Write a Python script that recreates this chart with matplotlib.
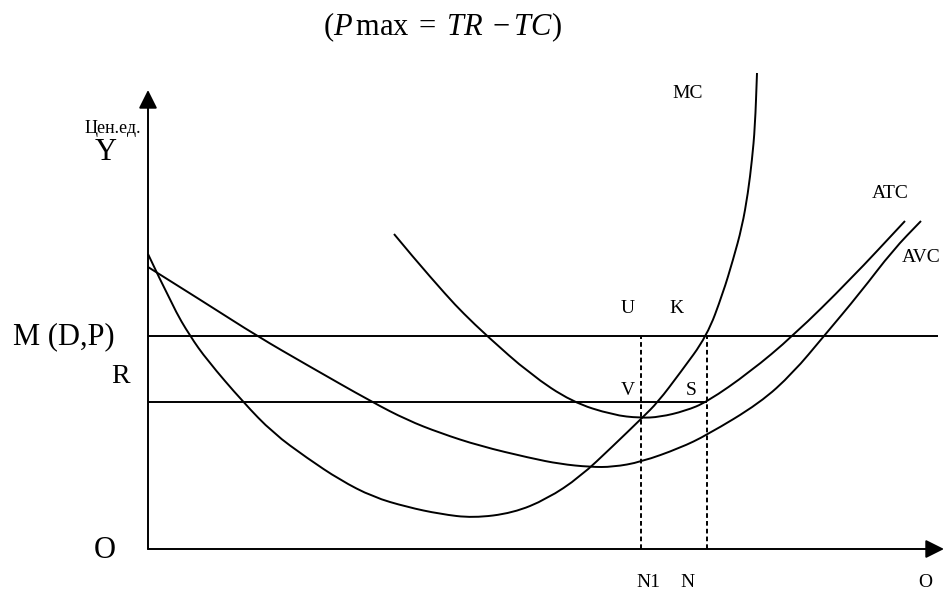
import matplotlib.pyplot as plt
from matplotlib.path import Path
from matplotlib.patches import PathPatch

plt.rcParams['font.family'] = ['Liberation Serif', 'DejaVu Serif']
plt.rcParams['mathtext.fontset'] = 'custom'
plt.rcParams['mathtext.rm'] = 'Liberation Serif'
plt.rcParams['mathtext.it'] = 'Liberation Serif:italic'

# кривые издержек (точки, начало координат в O)
mc_x = [0, 25, 42, 59, 95, 125, 159, 192, 225, 259, 292, 325, 365, 399,
        432, 465, 494, 510, 532, 559, 575, 585, 594, 600, 604, 607, 609]
mc_y = [295, 242, 213, 189, 147, 116, 91, 69, 52, 42, 35, 31, 36, 50,
        72, 103, 131, 147, 176, 213, 256, 289, 322, 356, 389, 422, 476]

atc_x = [246, 265, 299, 315, 339, 382, 424, 465, 492, 512, 537, 559,
         602, 645, 702, 757]
atc_y = [315, 292, 253, 236, 213, 175, 147, 134, 131, 132, 138, 147,
         177, 213, 269, 328]

avc_x = [0, 59, 109, 159, 224, 259, 292, 332, 382, 412, 442, 465, 493,
         532, 559, 612, 645, 676, 712, 745, 773]
avc_y = [282, 245, 213, 184, 147, 129, 116, 103, 91, 85, 82, 82, 87,
         101, 114, 146, 176, 213, 256, 299, 328]

# уровни цен и объёмы
price_m = 213   # M (D,P)
price_r = 147   # R
q_n1 = 493      # N1
q_n = 559       # N
m_end = 790
y_top = 459
x_end = 796

lw = 1.4


def smooth_curve(ax, xs, ys):
    # сглаженная линия через точки (квадратичные кривые Безье)
    pts = list(zip(xs, ys))
    verts = [pts[0]]
    codes = [Path.MOVETO]
    for i in range(1, len(pts) - 1):
        mid = ((pts[i][0] + pts[i + 1][0]) / 2, (pts[i][1] + pts[i + 1][1]) / 2)
        verts += [pts[i], mid]
        codes += [Path.CURVE3, Path.CURVE3]
    verts.append(pts[-1])
    codes.append(Path.LINETO)
    ax.add_patch(PathPatch(Path(verts, codes), fill=False, lw=lw,
                           edgecolor='black', capstyle='butt'))


fig = plt.figure(figsize=(9.44, 5.92), dpi=100)
ax = fig.add_axes([0, 0, 1, 1])
ax.set_xlim(-148, 796)
ax.set_ylim(-43, 549)
ax.axis('off')

smooth_curve(ax, mc_x, mc_y)
smooth_curve(ax, atc_x, atc_y)
smooth_curve(ax, avc_x, avc_y)

ax.hlines(price_m, 0, m_end, color='black', lw=lw)
ax.hlines(price_r, 0, q_n, color='black', lw=lw)
ax.vlines([q_n1, q_n], 0, price_m, color='black', lw=lw,
          linestyles=(0, (2.4, 1.6)))

# оси со стрелками
arrow = dict(arrowstyle='-|>,head_length=0.8,head_width=0.4', lw=lw,
             color='black', mutation_scale=14, shrinkA=0, shrinkB=0)
ax.annotate('', xy=(0, y_top), xytext=(0, 0), arrowprops=arrow)
ax.annotate('', xy=(x_end, 0), xytext=(0, 0), arrowprops=arrow)

ax.text(294, 514, r'$(P\,\mathrm{max}\;=\;TR\;-TC)$', fontsize=22,
        ha='center', va='baseline')

big = 22
small = 14
ax.text(-7, 416, 'Цен.ед.', fontsize=13, ha='right', va='baseline')
ax.text(-42, 389, 'Y', fontsize=big, ha='center', va='baseline')
ax.text(-135, 205, 'M (D,P)', fontsize=big, ha='left', va='baseline')
ax.text(-27, 166, 'R', fontsize=20, ha='center', va='baseline')
ax.text(-43, -9, 'O', fontsize=big, ha='center', va='baseline')

ax.text(540, 451, 'MC', fontsize=small, ha='center', va='baseline')
ax.text(742, 351, 'ATC', fontsize=small, ha='center', va='baseline')
ax.text(754, 287, 'AVC', fontsize=small, ha='left', va='baseline')
ax.text(480, 236, 'U', fontsize=small, ha='center', va='baseline')
ax.text(528, 236, 'K', fontsize=small, ha='center', va='baseline')
ax.text(480, 154, 'V', fontsize=small, ha='center', va='baseline')
ax.text(543, 154, 'S', fontsize=small, ha='center', va='baseline')
ax.text(500, -38, 'N1', fontsize=small, ha='center', va='baseline')
ax.text(539, -38, 'N', fontsize=small, ha='center', va='baseline')
ax.text(777, -38, 'O', fontsize=small, ha='center', va='baseline')

fig.savefig('out.png', dpi=100)
